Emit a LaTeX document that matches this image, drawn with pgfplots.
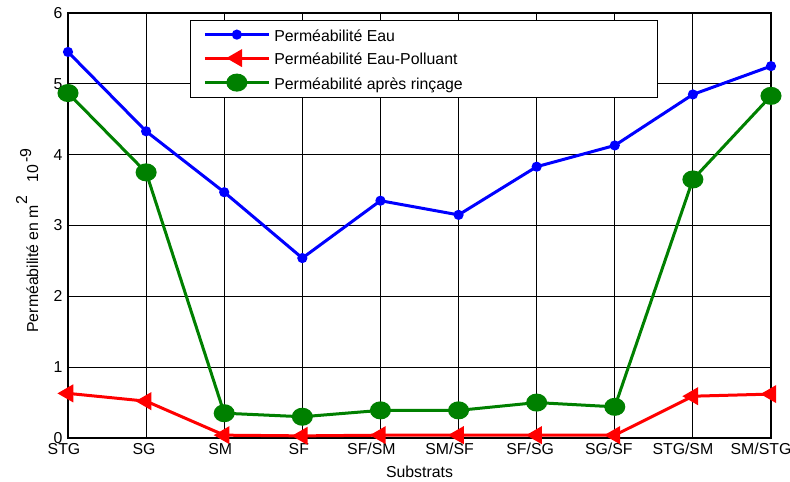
\documentclass[border=0pt]{standalone}
\usepackage{fontspec}
\setmainfont{Liberation Sans}
\usepackage{pgfplots}
\pgfplotsset{compat=1.18}
\definecolor{cblue}{RGB}{0,0,255}
\definecolor{cred}{RGB}{255,0,0}
\definecolor{cgreen}{RGB}{0,128,0}
\newcommand{\lf}{\fontsize{15.9}{18}\selectfont}
\newcommand{\sh}[2]{#1\hspace*{#2}\mbox{}}
\begin{document}
\lf
\begin{tikzpicture}[font=\lf]
\begin{axis}[
  at={(0,0)}, anchor=south west,
  scale only axis, width=703bp, height=425bp,
  xmin=0, xmax=9, ymin=0, ymax=6,
  xtick={0,...,9},
  xticklabels={\sh{STG}{8bp},\sh{SG}{4bp},\sh{SM}{8bp},\sh{SF}{7bp},\sh{SF/SM}{18bp},\sh{SM/SF}{18bp},\sh{SF/SG}{13bp},\sh{SG/SF}{12bp},\sh{STG/SM}{20bp},\sh{SM/STG}{20bp}},
  ytick={0,1,2,3,4,5,6},
  /pgf/number format/assume math mode=true,
  every tick label/.append style={font=\lf},
  major tick length=0pt,
  grid=major,
  major grid style={black, line width=0.8bp},
  axis line style={black, line width=1.3bp},
  xlabel={Substrats},
  every axis x label/.append style={font=\lf},
  xlabel style={at={(axis description cs:0.5,0)}, anchor=base, yshift=-39bp, inner sep=0pt},
  clip=false,
  legend cell align=left,
  legend style={at={(0.1735,0.9835)}, anchor=north west, draw=black, line width=0.8bp,
    fill=white, font=\lf, nodes={inner sep=0pt, text height=13bp, text depth=0pt},
    row sep=10.5bp, column sep=4bp, inner xsep=13bp, inner ysep=7.7bp},
  legend image code/.code={\draw[mark repeat=2,mark phase=2] plot coordinates {(0bp,0bp)(32bp,0bp)(64bp,0bp)};},
]
\addplot[cblue, line width=3bp, mark=*, mark size=3.5bp, mark options={fill=cblue}]
 coordinates {(0,5.45)(1,4.33)(2,3.47)(3,2.54)(4,3.35)(5,3.15)(6,3.83)(7,4.13)(8,4.85)(9,5.25)};
\addlegendentry{\makebox[370bp][l]{Perméabilité Eau}}
\addplot[cred, line width=3bp, mark=triangle*, mark size=7.5bp, mark options={rotate=90, fill=cred}]
 coordinates {(0,0.63)(1,0.52)(2,0.04)(3,0.03)(4,0.04)(5,0.04)(6,0.04)(7,0.04)(8,0.59)(9,0.62)};
\addlegendentry{\makebox[370bp][l]{Perméabilité Eau-Polluant}}
\addplot[cgreen, line width=3bp, mark=*, mark size=7.5bp, mark options={fill=cgreen, xscale=1.2}]
 coordinates {(0,4.87)(1,3.75)(2,0.35)(3,0.30)(4,0.39)(5,0.39)(6,0.50)(7,0.44)(8,3.65)(9,4.83)};
\addlegendentry{\makebox[370bp][l]{Perméabilité après rinçage}}
\end{axis}
\node[rotate=90, anchor=base, inner sep=0pt, font=\lf] at (-30bp,197.5bp)
  {Perméabilité en m\raisebox{11bp}{2}\hspace{14bp}10\hspace{2bp}\raisebox{7bp}{-9}};
\pgfresetboundingbox
\path[use as bounding box] (-68bp,-44bp) rectangle (722bp,438bp);
\end{tikzpicture}
\end{document}
